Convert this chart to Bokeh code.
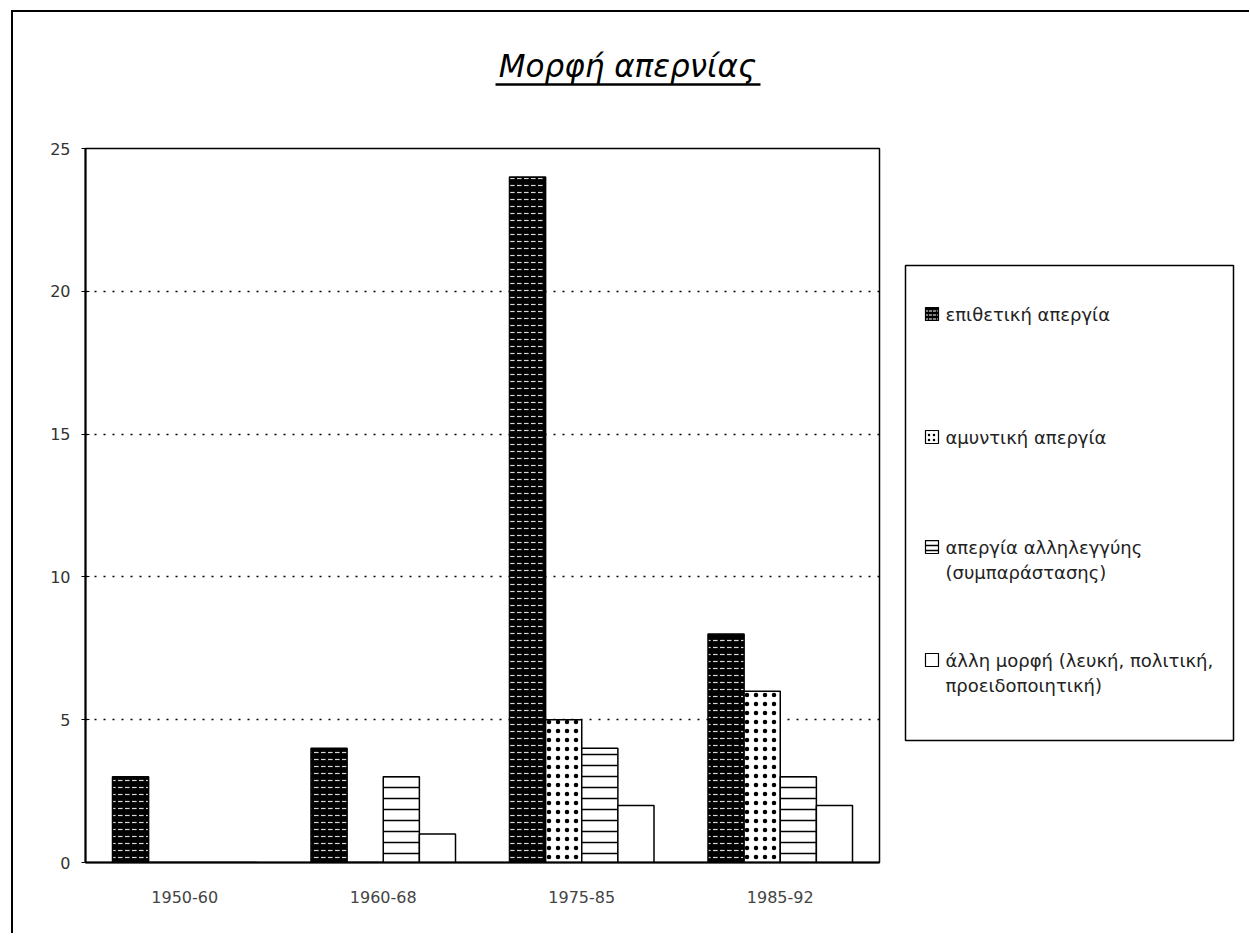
from bokeh.plotting import figure
from bokeh.models import (FactorRange, Range1d, SingleIntervalTicker, ColumnDataSource, Spacer)
from bokeh.layouts import row, column
from bokeh.transform import dodge
from bokeh.embed import file_html
from bokeh.resources import INLINE
from bokeh.core.properties import value

# ---- data ----
periods = ["1950-60", "1960-68", "1975-85", "1985-92"]
attack = [3, 4, 24, 8]          # επιθετική απεργία
defensive = [0, 0, 5, 6]        # αμυντική απεργία
solidarity = [0, 3, 4, 3]       # απεργία αλληλεγγύης
other = [0, 1, 2, 2]            # άλλη μορφή
series_labels = [
    ["επιθετική απεργία"],
    ["αμυντική απεργία"],
    ["απεργία αλληλεγγύης", "(συμπαράστασης)"],
    ["άλλη μορφή (λευκή, πολιτική,", "προειδοποιητική)"],
]
title_text = "Μορφή απερνίας"

FONT = "DejaVu Sans"

# series styles
styles = [
    dict(fill_color="black", hatch_pattern="horizontal_dash", hatch_color="white",
         hatch_scale=7, hatch_weight=1.2, hatch_alpha=0.85),
    dict(fill_color="white", hatch_pattern="dot", hatch_color="black",
         hatch_scale=9, hatch_weight=1.2),
    dict(fill_color="white", hatch_pattern="horizontal_line", hatch_color="black",
         hatch_scale=11, hatch_weight=1.5),
    dict(fill_color="white"),
]

# page geometry (absolute pixels)
X0, Y0 = 13, 12
TOTAL_W = 1236
TH = 120
PW, PH = 868, 801

# ---------------- title strip ----------------
tf = figure(width=TOTAL_W, height=TH, x_range=Range1d(X0, X0 + TOTAL_W),
            y_range=Range1d(Y0 + TH, Y0),
            output_backend="svg", toolbar_location=None,
            min_border=0, min_border_left=0, min_border_right=0,
            min_border_top=0, min_border_bottom=0)
tf.axis.visible = False
tf.grid.visible = False
tf.outline_line_color = None
tf.text(x=[627], y=[65], text=[title_text], text_align="center",
        text_baseline="alphabetic", text_font=value(FONT), text_font_style="italic",
        text_font_size="31px", text_color="black")
tf.segment(x0=[495], y0=[84], x1=[760], y1=[84], line_color="black", line_width=2.5)

# ---------------- main chart ----------------
src = ColumnDataSource(dict(period=periods, attack=attack, defensive=defensive,
                            solidarity=solidarity, other=other))
p = figure(x_range=FactorRange(*periods), y_range=(0, 25), width=PW, height=PH,
           output_backend="svg", toolbar_location=None,
           min_border_left=72, min_border_right=2, min_border_top=16,
           min_border_bottom=71)
p.background_fill_color = "white"
p.border_fill_color = "white"
p.outline_line_color = "black"
p.outline_line_width = 1.5

bw = 0.182
offs = [-0.273, -0.091, 0.091, 0.273]
cols = ["attack", "defensive", "solidarity", "other"]
renderers = []
for i, c in enumerate(cols):
    r = p.vbar(x=dodge("period", offs[i], range=p.x_range), top=c, width=bw, source=src,
               line_color="black", line_width=1.5, **styles[i])
    renderers.append(r)

p.yaxis.ticker = SingleIntervalTicker(interval=5)
p.yaxis.minor_tick_line_color = None
p.yaxis.major_tick_in = 4
p.yaxis.major_tick_out = 4
p.yaxis.axis_line_width = 2
p.yaxis.major_label_text_font = FONT
p.yaxis.major_label_text_font_size = "16px"
p.yaxis.major_label_text_color = "#333333"
p.yaxis.major_label_standoff = 11

p.xaxis.major_tick_line_color = None
p.xaxis.axis_line_width = 2
p.xaxis.major_label_text_font = FONT
p.xaxis.major_label_text_font_size = "16px"
p.xaxis.major_label_text_color = "#444444"
p.xaxis.major_label_standoff = 22

p.xgrid.grid_line_color = None
p.ygrid.grid_line_color = "black"
p.ygrid.grid_line_dash = "2 7"
p.ygrid.grid_line_width = 1.3

# ---------------- legend panel (frame aligned with the chart frame) ----------------
LW = TOTAL_W - PW
lf = figure(width=LW, height=PH, x_range=Range1d(X0 + PW, X0 + TOTAL_W),
            y_range=Range1d(862, 148),
            output_backend="svg", toolbar_location=None,
            min_border=0, min_border_left=0, min_border_right=0,
            min_border_top=16, min_border_bottom=71)
lf.axis.visible = False
lf.grid.visible = False
lf.outline_line_color = None
lf.quad(left=[905], right=[1233], top=[265], bottom=[740], fill_color="white",
        line_color="black", line_width=1.5)
glyph_tops = [307, 430, 540, 653]
line_gap = 25
for i, lines in enumerate(series_labels):
    gt = glyph_tops[i]
    lf.quad(left=[925], right=[938], top=[gt], bottom=[gt + 13], line_color="black",
            line_width=1.2, **{k: v for k, v in styles[i].items() if k != "hatch_scale"},
            hatch_scale=5 if i else 4)
    lf.text(x=[945] * len(lines), y=[gt + 7 + line_gap * k for k in range(len(lines))],
            text=lines, text_align="left", text_baseline="middle",
            text_font=value(FONT), text_font_size="18px", text_color="#222222")

inner = column(tf, row(p, lf, spacing=0), spacing=0)
inner.styles = {"border-left": "2px solid black", "border-top": "2px solid black"}
layout = row(Spacer(width=11), column(Spacer(height=10), inner, spacing=0), spacing=0)

open("out.html", "w").write(file_html(layout, INLINE))
